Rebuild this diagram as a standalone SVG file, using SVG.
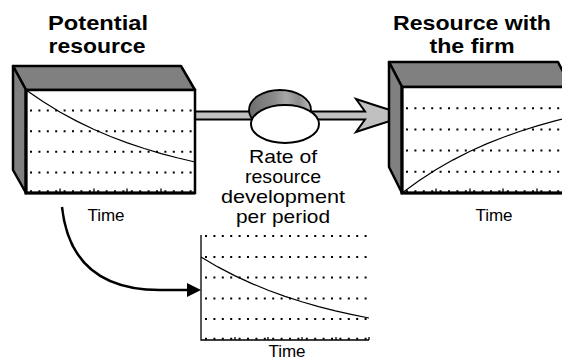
<svg xmlns="http://www.w3.org/2000/svg" width="562" height="360" viewBox="0 0 562 360">
<style>
text{font-family:"Liberation Sans",Arial,Helvetica,sans-serif;fill:#000;text-anchor:middle}
.title{font-size:20.5px;font-weight:bold}
.lbl{font-size:18.5px}
.time{font-size:17px}
.face{fill:#808080;stroke:#000;stroke-width:2.5;stroke-linejoin:round}
.front{fill:#fff;stroke:#000;stroke-width:2.5}
.dots{stroke:#000;stroke-width:2;stroke-dasharray:2 6.4;fill:none}
.thin{stroke:#000;stroke-width:1.3;fill:none}
.curve{stroke:#000;stroke-width:1.2;fill:none}
.tick{stroke:#000;stroke-width:1.3}
.pipe{fill:#c0c0c0;stroke:#000;stroke-width:2;stroke-linejoin:miter}
</style>
<defs>
<linearGradient id="rim" x1="0" y1="0" x2="1" y2="0">
<stop offset="0" stop-color="#6e6e6e"/>
<stop offset="0.4" stop-color="#8a8a8a"/>
<stop offset="0.6" stop-color="#a8a8a8"/>
<stop offset="0.8" stop-color="#8c8c8c"/>
<stop offset="1" stop-color="#bdbdbd"/>
</linearGradient>
</defs>

<g id="connectors">
<path class="pipe" d="M195 111.5 H365 L356 99 Q374 105 390 110 V121 Q374 126 356 132 L365 119.5 H195 Z"/>
<path d="M62 207 C68 262 100 290 160 290 L190 290" fill="none" stroke="#000" stroke-width="2.5"/>
<polygon points="187,283 201,290 187,297" fill="#000"/>
</g>

<g id="potential-resource">
<text class="title" x="98" y="30" textLength="100" lengthAdjust="spacingAndGlyphs">Potential</text>
<text class="title" x="97" y="53" textLength="97" lengthAdjust="spacingAndGlyphs">resource</text>
<polygon class="face" points="13,66 181,66 195,90 26,90"/>
<polygon class="face" points="13,66 26,90 26,193 13,170"/>
<rect class="front" x="26" y="90" width="169" height="103"/>
<path class="dots" d="M30 110.6H195M30 131.2H195M30 151.8H195M30 172.4H195M30 191.2H195"/>
<path class="tick" d="M60 193V188.5M94 193V188.5M127 193V188.5M161 193V188.5"/>
<polyline class="curve" points="26,90 42.9,101.6 59.8,112 76.7,121.1 93.6,129.3 110.5,136.5 127.4,142.9 144.3,148.5 161.2,153.6 178.1,158 195,162"/>
<path d="M26 90V193H195" fill="none" stroke="#000" stroke-width="3"/>
<text class="time" x="106" y="221">Time</text>
</g>

<g id="rate">
<ellipse cx="280" cy="110" rx="31" ry="20" fill="url(#rim)" stroke="#000" stroke-width="1.8"/>
<ellipse cx="285" cy="124" rx="34" ry="19" fill="#fff" stroke="#000" stroke-width="2"/>
<text class="lbl" x="283" y="163" textLength="68" lengthAdjust="spacingAndGlyphs">Rate of</text>
<text class="lbl" x="283" y="183" textLength="76" lengthAdjust="spacingAndGlyphs">resource</text>
<text class="lbl" x="283" y="203" textLength="124" lengthAdjust="spacingAndGlyphs">development</text>
<text class="lbl" x="283" y="223" textLength="94" lengthAdjust="spacingAndGlyphs">per period</text>
</g>

<g id="resource-with-firm">
<text class="title" x="472" y="30" textLength="158" lengthAdjust="spacingAndGlyphs">Resource with</text>
<text class="title" x="472" y="53" textLength="85" lengthAdjust="spacingAndGlyphs">the firm</text>
<polygon class="face" points="389,62 558,62 571,87 402,87"/>
<polygon class="face" points="389,62 402,87 402,193 389,167"/>
<rect class="front" x="402" y="87" width="169" height="106"/>
<path class="dots" d="M406 108.2H571M406 129.4H571M406 150.6H571M406 171.8H571M406 191.2H571"/>
<path class="tick" d="M436 193V188.5M470 193V188.5M503 193V188.5M537 193V188.5"/>
<polyline class="curve" points="402,193 418.9,180.7 435.8,169.8 452.7,160.1 469.6,151.5 486.5,143.9 503.4,137.2 520.3,131.2 537.2,125.9 554.1,121.2 571,117"/>
<path d="M402 87V193H571" fill="none" stroke="#000" stroke-width="3"/>
<text class="time" x="494" y="221">Time</text>
</g>

<g id="rate-chart">
<path class="dots" d="M205 236H369M205 257H369M205 277.6H369M205 298.4H369M205 319H369M205 338.8H369"/>
<path class="tick" d="M235 340V337M268 340V337M302 340V337M336 340V337M369 340V337"/>
<path class="thin" d="M201 235V340H369"/>
<polyline class="curve" points="201,257 217.8,266.9 234.6,275.6 251.4,283.4 268.2,290.3 285,296.4 301.8,301.8 318.6,306.6 335.4,310.9 352.2,314.6 369,318"/>
<text class="time" x="287" y="357">Time</text>
</g>
</svg>
